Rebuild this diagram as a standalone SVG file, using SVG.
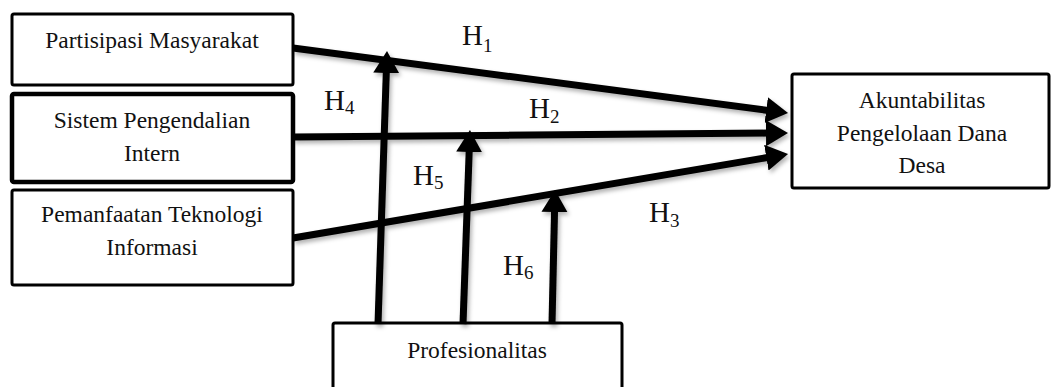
<svg xmlns="http://www.w3.org/2000/svg" width="1051" height="387" viewBox="0 0 1051 387">
<style>
.box{fill:#fff;stroke:#000;stroke-width:3}
.t{font-family:"Liberation Serif","Times New Roman",serif;font-size:23.5px;fill:#111;text-anchor:middle}
.h{font-family:"Liberation Serif","Times New Roman",serif;font-size:29px;fill:#111}
.s{font-size:19px}
.c{stroke:#000;stroke-width:7;fill:none;marker-end:url(#ah)}
</style>
<defs>
<marker id="ah" markerUnits="userSpaceOnUse" markerWidth="24" markerHeight="28" refX="4" refY="13" orient="auto">
<path d="M0,0 L22,13 L0,26 Z" fill="#000"/>
</marker>
<filter id="sh" x="-10%" y="-10%" width="120%" height="130%">
<feDropShadow dx="2" dy="3" stdDeviation="2" flood-color="#000" flood-opacity="0.3"/>
</filter>
</defs>
<g id="node-partisipasi">
<rect class="box" x="12" y="14" width="281" height="71" rx="2"/>
<text class="t" x="152" y="48">Partisipasi Masyarakat</text>
</g>
<g id="node-spi">
<rect class="box" x="12" y="94" width="281" height="88" rx="2" style="stroke-width:4.5"/>
<text class="t" x="152" y="128">Sistem Pengendalian</text>
<text class="t" x="152" y="161">Intern</text>
</g>
<g id="node-pti">
<rect class="box" x="12" y="190" width="281" height="95" rx="2"/>
<text class="t" x="152" y="222">Pemanfaatan Teknologi</text>
<text class="t" x="152" y="255">Informasi</text>
</g>
<g id="node-akuntabilitas">
<rect class="box" x="792" y="74" width="257" height="114" rx="2"/>
<text class="t" x="922" y="108">Akuntabilitas</text>
<text class="t" x="922" y="141">Pengelolaan Dana</text>
<text class="t" x="922" y="173">Desa</text>
</g>
<g id="node-profesionalitas">
<rect class="box" x="333" y="323" width="289" height="72" rx="2"/>
<text class="t" x="477" y="358">Profesionalitas</text>
</g>
<g id="connectors" filter="url(#sh)">
<line class="c" x1="293" y1="48" x2="770.2" y2="110.7"/>
<line class="c" x1="293" y1="137" x2="770" y2="133.1"/>
<line class="c" x1="293" y1="238" x2="770.3" y2="157"/>
<line class="c" x1="378" y1="324" x2="386.4" y2="69"/>
<line class="c" x1="463" y1="324" x2="469.3" y2="148"/>
<line class="c" x1="552" y1="324" x2="554.6" y2="208"/>
</g>
<g id="labels">
<text class="h" x="462" y="45">H<tspan class="s" dy="7">1</tspan></text>
<text class="h" x="324" y="110">H<tspan class="s" dy="4">4</tspan></text>
<text class="h" x="529" y="118">H<tspan class="s" dy="5">2</tspan></text>
<text class="h" x="413" y="185">H<tspan class="s" dy="4">5</tspan></text>
<text class="h" x="649" y="222">H<tspan class="s" dy="5">3</tspan></text>
<text class="h" x="503" y="275">H<tspan class="s" dy="4">6</tspan></text>
</g>
</svg>
